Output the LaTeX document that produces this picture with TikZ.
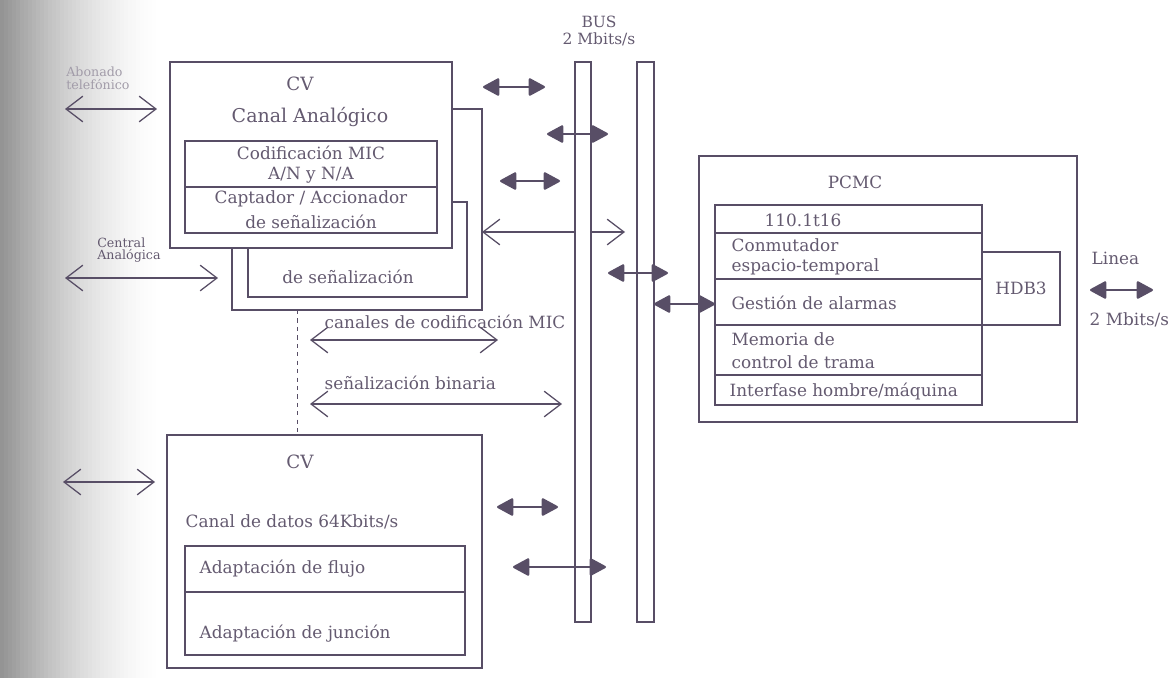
\documentclass[tikz,border=0pt]{standalone}
\usepackage{fontspec}
\setmainfont{DejaVu Serif}
\usetikzlibrary{arrows.meta,fit}
\definecolor{ink}{RGB}{88,78,102}
\definecolor{inktext}{RGB}{100,90,112}
\tikzset{
  box/.style={draw=ink, line width=0.9pt, fill=white, inner sep=0pt},
  lbl/.style={text=inktext, font=\fontsize{12}{14}\selectfont, inner sep=1pt},
  tag/.style={text=inktext, font=\fontsize{9}{9}\selectfont, align=left, inner sep=0pt, anchor=west},
  bidir/.style={draw=ink, line width=0.9pt, {Straight Barb[length=4.2mm,width=6.4mm]}-{Straight Barb[length=4.2mm,width=6.4mm]}},
  busarrow/.style={draw=ink, line width=1.6pt, {Triangle[length=4.4mm,width=4.6mm,round]}-{Triangle[length=4.4mm,width=4.6mm,round]}},
}
\begin{document}
\begin{tikzpicture}[x=0.025cm, y=-0.025cm]
  \useasboundingbox (0,0) rectangle (1174,678);
  \foreach \i [evaluate=\i as \g using {42*(1-\i/160)^1.6}] in {0,4,...,156}
    \fill[black!\g] (\i,0) rectangle (\i+4.3,678);
  \node[box, fit={(232,109) (482,310)}] (cvback) {};
  \node[box, fit={(248,202) (467,297)}] (sigback) {};
  \node[box, fit={(170,62) (452,248)}] (cvan) {};
  \node[box, fit={(185,141) (437,187)}] (mic) {};
  \node[box, fit={(185,187) (437,233)}] (capt) {};
  \node[lbl, font=\fontsize{13}{15}\selectfont] (cvanA) at (300,84) {CV};
  \node[lbl, font=\fontsize{13.5}{15}\selectfont] (cvanB) at (310,117) {Canal Analógico};
  \node[lbl] (micA) at (311,153) {Codificación MIC};
  \node[lbl] (micB) at (311,175) {A/N y N/A};
  \node[lbl] (captA) at (311,199) {Captador / Accionador};
  \node[lbl] (captB) at (311,222) {de señalización};
  \node[lbl] (sigA) at (348,277) {de señalización};
  \node[box, fit={(167,435) (482,668)}] (cvdat) {};
  \node[box, fit={(185,546) (465,592)}] (flujo) {};
  \node[box, fit={(185,592) (465,655)}] (junc) {};
  \node[lbl, font=\fontsize{13}{15}\selectfont] (cvdatA) at (300,462) {CV};
  \node[lbl, anchor=west] (cvdatB) at (184,522) {Canal de datos 64Kbits/s};
  \node[lbl, anchor=west] (flujoA) at (198,569) {Adaptación de flujo};
  \node[lbl, anchor=west] (juncA) at (198,634) {Adaptación de junción};
  \coordinate (dtop) at (297,310);
  \coordinate (dbot) at (297,435);
  \draw[ink, dashed, line width=0.7pt] (dtop) -- (dbot);
  \node[box, fit={(699,156) (1077,422)}] (pcmc) {};
  \node[box, fit={(982,252) (1060,325)}] (hdb) {};
  \node[box, fit={(715,205) (982,233)}] (r1) {};
  \node[box, fit={(715,233) (982,279)}] (r2) {};
  \node[box, fit={(715,279) (982,325)}] (r3) {};
  \node[box, fit={(715,325) (982,375)}] (r4) {};
  \node[box, fit={(715,375) (982,405)}] (r5) {};
  \node[lbl] (pcmcA) at (855,182) {PCMC};
  \node[lbl] (hdbA) at (hdb.center) {HDB3};
  \node[lbl] (r1A) at (803,220) {110.1t16};
  \node[lbl, anchor=west] (r2A) at (730,245) {Conmutador};
  \node[lbl, anchor=west] (r2B) at (730,267) {espacio-temporal};
  \node[lbl, anchor=west] (r3A) at (730,303) {Gestión de alarmas};
  \node[lbl, anchor=west] (r4A) at (730,339) {Memoria de};
  \node[lbl, anchor=west] (r4B) at (730,362) {control de trama};
  \node[lbl, anchor=west] (r5A) at (728,391) {Interfase hombre/máquina};
  \node[lbl, anchor=west] (lineaA) at (1090,258) {Linea};
  \node[lbl, anchor=west] (lineaB) at (1088,320) {2 Mbits/s};
  \node[tag, text=inktext!60] (abon) at (66,78) {Abonado\\telefónico};
  \node[tag] (centr) at (97,250) {Central\\Analógica};
  \node[lbl, anchor=west] (micT) at (323,322) {canales de codificación MIC};
  \node[lbl, anchor=west] (binT) at (323,383) {señalización binaria};
  \node[lbl, align=center, font=\fontsize{11}{12}\selectfont] (busT) at (599,31) {BUS\\2 Mbits/s};
  \coordinate (abL) at (65,109);   \coordinate (abR) at (157,109);
  \coordinate (ceL) at (65,278);   \coordinate (ceR) at (218,278);
  \coordinate (daL) at (63,482);   \coordinate (daR) at (155,482);
  \coordinate (miL) at (310,340);  \coordinate (miR) at (498,340);
  \coordinate (biL) at (310,404);  \coordinate (biR) at (562,404);
  \coordinate (sgL) at (482,232);  \coordinate (sgR) at (625,232);
  \draw[bidir] (abL) -- (abR);
  \draw[bidir] (ceL) -- (ceR);
  \draw[bidir] (daL) -- (daR);
  \draw[bidir] (miL) -- (miR);
  \draw[bidir] (biL) -- (biR);
  \draw[bidir] (sgL) -- (sgR);
  \node[box, fit={(575,62) (591,622)}] (bus1) {};
  \node[box, fit={(637,62) (654,622)}] (bus2) {};
  \coordinate (k1L) at (483,87);   \coordinate (k1R) at (545,87);
  \coordinate (k2L) at (547,134);  \coordinate (k2R) at (608,134);
  \coordinate (k3L) at (500,181);  \coordinate (k3R) at (560,181);
  \coordinate (k4L) at (608,273);  \coordinate (k4R) at (668,273);
  \coordinate (k5L) at (654,304);  \coordinate (k5R) at (715,304);
  \coordinate (k6L) at (497,507);  \coordinate (k6R) at (558,507);
  \coordinate (k7L) at (513,567);  \coordinate (k7R) at (606,567);
  \coordinate (k8L) at (1090,290); \coordinate (k8R) at (1153,290);
  \foreach \k in {1,...,8}
    \draw[busarrow] (k\k L) -- (k\k R);
\end{tikzpicture}
\end{document}
